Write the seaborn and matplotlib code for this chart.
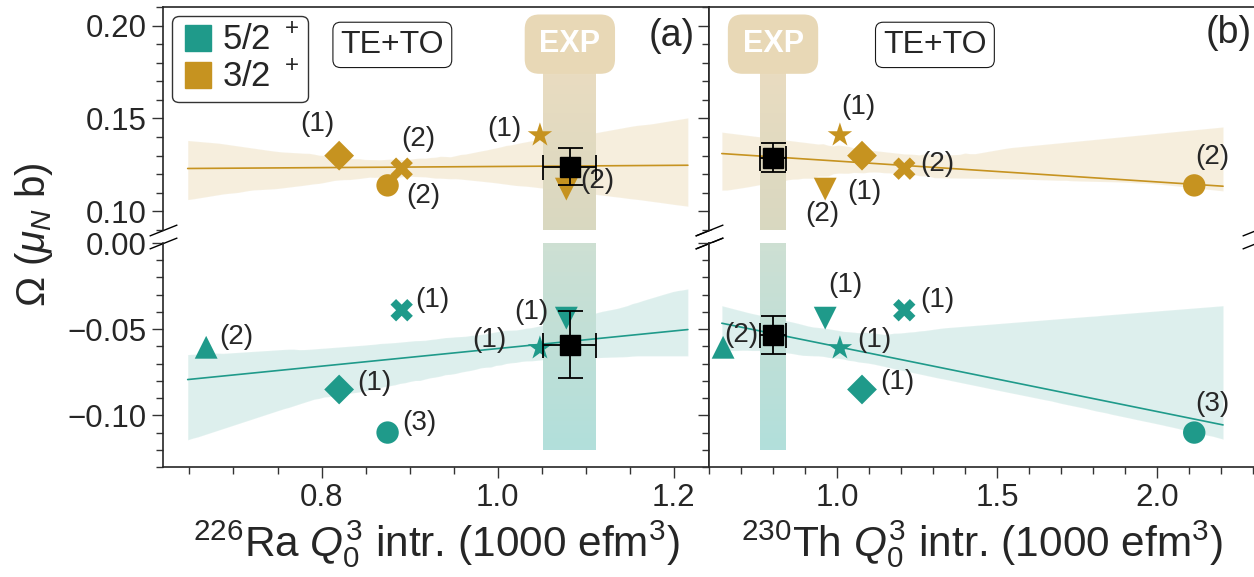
import numpy as np
import pandas as pd
import matplotlib
matplotlib.use("Agg")
import matplotlib.pyplot as plt
import seaborn as sns
from matplotlib.colors import LinearSegmentedColormap
from matplotlib.lines import Line2D
from matplotlib.ticker import MultipleLocator

# one marker per theory calculation
models = ["o", "^", "v", "D", "X", "*"]
ra_q03 = [0.875, 0.669, 1.078, 0.820, 0.891, 1.048]
th_q03 = [2.116, 0.644, 0.963, 1.078, 1.21, 1.009]
omega_52 = [-0.110, -0.0605, -0.0436, -0.085, -0.039, -0.061]
omega_32 = [0.114, np.nan, 0.112, 0.130, 0.123, 0.141]
labels_52 = ["(3)", "(2)", "(1)", "(1)", "(1)", "(1)"]
labels_32 = ["(2)", "", "(2)", "(1)", "(2)", "(1)"]

# experiment, panel (a) then panel (b)
exp_q03 = [1.082, 0.80]
exp_q03_err = [0.030, 0.040]
exp_52 = [-0.059, -0.0535]
exp_52_err = [0.0195, 0.011]
exp_32 = [0.124, 0.129]
exp_32_err = [0.010, 0.008]

state_labels = ["5/2 $^+$", "3/2 $^+$"]
teal = "#1f9a8a"
gold = "#c69320"
marker_sizes = {"o": 260, "^": 270, "v": 270, "D": 230, "X": 260, "*": 340}

# label offsets in pixels, (dx, dy) per model
offsets = {
    ("a", "52"): [(32, 10), (30, 10), (-35, 6), (35, 6), (31, 10), (-51, 8)],
    ("a", "32"): [(36, -11), (0, 0), (31, 8), (-22, 32), (17, 30), (-36, 6)],
    ("b", "52"): [(18, 29), (18, 12), (20, 33), (35, 7), (33, 10), (34, 8)],
    ("b", "32"): [(18, 28), (0, 0), (-3, -25), (2, -36), (33, 5), (18, 28)],
}

sns.set_style("ticks")
plt.rcParams["font.family"] = ["Liberation Sans", "DejaVu Sans"]
plt.rcParams["mathtext.fontset"] = "custom"
plt.rcParams["mathtext.rm"] = "Liberation Sans"
plt.rcParams["mathtext.it"] = "Liberation Sans:italic"
plt.rcParams["mathtext.bf"] = "Liberation Sans:bold"

fig = plt.figure(figsize=(12.54, 5.77), dpi=100)
ax_at = fig.add_axes([0.130, 0.6014, 0.4354, 0.3865])
ax_ab = fig.add_axes([0.130, 0.1906, 0.4354, 0.3882], sharex=ax_at)
ax_bt = fig.add_axes([0.5654, 0.6014, 0.4362, 0.3865])
ax_bb = fig.add_axes([0.5654, 0.1906, 0.4362, 0.3882], sharex=ax_bt)

band_cmap = LinearSegmentedColormap.from_list("band", ["#b2dfdb", "#cde0d3", "#d9d8c0", "#e9dcc0"])

panels = [
    ("a", ax_at, ax_ab, ra_q03, (0.648, 1.216), (0.62, 1.24), 0),
    ("b", ax_bt, ax_bb, th_q03, (0.64, 2.206), (0.6, 2.309), 1),
]

for name, ax_t, ax_b, q03, line_rng, xlim, i in panels:
    df = pd.DataFrame({"q03": q03, "o52": omega_52, "o32": omega_32,
                       "model": models, "l52": labels_52, "l32": labels_32})

    # regression + bootstrap band over the line range
    ax_t.set_xlim(*line_rng)
    sns.regplot(data=df, x="q03", y="o32", ax=ax_t, scatter=False, truncate=False,
                color=gold, ci=68, seed=1, line_kws=dict(lw=1.2))
    sns.regplot(data=df, x="q03", y="o52", ax=ax_b, scatter=False, truncate=False,
                color=teal, ci=68, seed=1, line_kws=dict(lw=1.2))

    # experimental band (gradient)
    x0 = exp_q03[i] - exp_q03_err[i]
    x1 = exp_q03[i] + exp_q03_err[i]
    ax_t.imshow(np.linspace(0.66, 1.0, 50)[:, None], extent=(x0, x1, 0.09, 0.175),
                origin="lower", aspect="auto", cmap=band_cmap, vmin=0, vmax=1, zorder=1.5)
    ax_b.imshow(np.linspace(0.0, 0.34, 50)[:, None], extent=(x0, x1, -0.12, 0.0),
                origin="lower", aspect="auto", cmap=band_cmap, vmin=0, vmax=1, zorder=1.5)
    ax_t.text(exp_q03[i], 0.190, "EXP", ha="center", va="center", color="white",
              fontsize=22, fontweight="bold", zorder=4,
              bbox=dict(boxstyle="round,pad=0.48", fc="#e8d8b6", ec="none"))

    # theory points
    mk = dict(zip(models, models))
    sns.scatterplot(data=df, x="q03", y="o32", style="model", markers=mk, color=gold,
                    size="model", sizes=marker_sizes, linewidth=0, legend=False, ax=ax_t, zorder=3)
    sns.scatterplot(data=df, x="q03", y="o52", style="model", markers=mk, color=teal,
                    size="model", sizes=marker_sizes, linewidth=0, legend=False, ax=ax_b, zorder=3)

    for ax, col, key in [(ax_t, "o32", "32"), (ax_b, "o52", "52")]:
        lab_col = "l" + key
        for j, row in df.iterrows():
            if row[lab_col] == "" or np.isnan(row[col]):
                continue
            ax.annotate(row[lab_col], (row["q03"], row[col]), xytext=offsets[(name, key)][j],
                        textcoords="offset pixels", ha="center", va="center", fontsize=20, zorder=4)

    # experimental points
    ax_t.errorbar(exp_q03[i], exp_32[i], xerr=exp_q03_err[i], yerr=exp_32_err[i], fmt="s",
                  color="k", ms=14, capsize=9, elinewidth=1.3, capthick=1.3, zorder=5)
    ax_b.errorbar(exp_q03[i], exp_52[i], xerr=exp_q03_err[i], yerr=exp_52_err[i], fmt="s",
                  color="k", ms=14, capsize=9, elinewidth=1.3, capthick=1.3, zorder=5)

    ax_t.set_xlim(*xlim)
    ax_t.set_ylim(0.09, 0.21)
    ax_b.set_ylim(-0.13, 0.0)
    ax_t.spines["bottom"].set_visible(False)
    ax_b.spines["top"].set_visible(False)
    ax_t.tick_params(axis="x", which="both", bottom=False, labelbottom=False)
    for ax in (ax_t, ax_b):
        ax.set_xlabel("")
        ax.set_ylabel("")
        ax.yaxis.set_major_locator(MultipleLocator(0.05))
        ax.yaxis.set_minor_locator(MultipleLocator(0.01))
        ax.tick_params(which="major", length=8, width=1.0, labelsize=22.5, color="0.2")
        ax.tick_params(which="minor", length=5, width=1.0, color="0.2")
        for sp in ax.spines.values():
            sp.set_color("0.15")
            sp.set_linewidth(1.2)
        if name == "b":
            ax.tick_params(axis="y", which="both", labelleft=False)

    ax_t.text(0.42 if name == "a" else 0.413, 0.83, "TE+TO", transform=ax_t.transAxes,
              ha="center", va="center", fontsize=23,
              bbox=dict(boxstyle="round,pad=0.24", fc="white", ec="0.1", lw=0.8))

    # axis break marks
    d = 0.4
    kw = dict(marker=[(-1, -d), (1, d)], markersize=20, linestyle="none", color="k",
              mec="k", mew=1.0, clip_on=False)
    ax_t.plot([0, 1], [0, 0], transform=ax_t.transAxes, **kw)
    ax_b.plot([0, 1], [1, 1], transform=ax_b.transAxes, **kw)

ax_ab.xaxis.set_major_locator(MultipleLocator(0.2))
ax_ab.xaxis.set_minor_locator(MultipleLocator(0.05))
ax_bb.xaxis.set_major_locator(MultipleLocator(0.5))
ax_bb.xaxis.set_minor_locator(MultipleLocator(0.1))

ax_ab.set_xlabel(r"$^{226}$Ra $Q_0^3$ intr. (1000 efm$^3$)", fontsize=30.5, labelpad=4)
ax_bb.set_xlabel(r"$^{230}$Th $Q_0^3$ intr. (1000 efm$^3$)", fontsize=30.5, labelpad=4)
fig.text(0.027, 0.593, r"$\Omega$ ($\mu_N$ b)", rotation=90, ha="center", va="center", fontsize=29)

ax_at.text(0.932, 0.87, "(a)", transform=ax_at.transAxes, ha="center", va="center", fontsize=27)
ax_bt.text(0.950, 0.883, "(b)", transform=ax_bt.transAxes, ha="center", va="center", fontsize=27)

handles = [Line2D([], [], marker="s", ls="none", color=teal, ms=19),
           Line2D([], [], marker="s", ls="none", color=gold, ms=19)]
ax_at.legend(handles, state_labels, loc="upper left", fontsize=25, handletextpad=0.2,
             borderpad=0.25, labelspacing=0.1, handlelength=1.0, borderaxespad=0.25,
             frameon=True, fancybox=True, edgecolor="0.2", framealpha=1)

fig.savefig("out.png", dpi=100)
